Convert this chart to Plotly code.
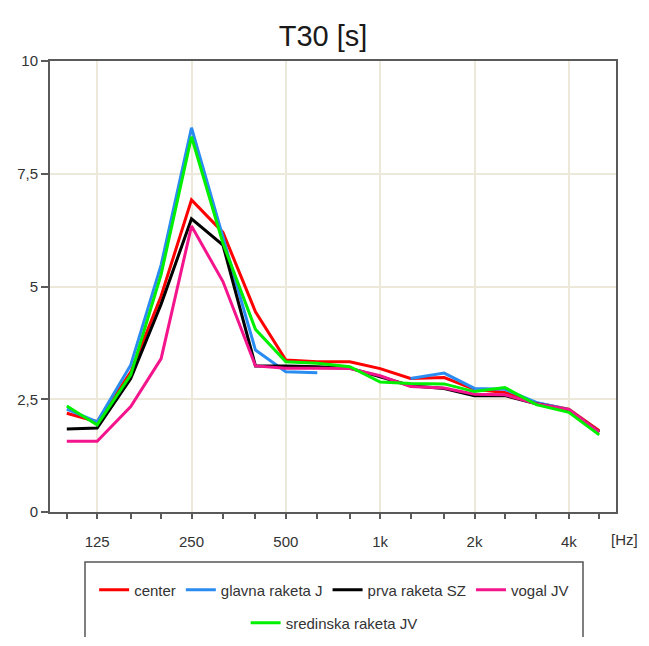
import math
import plotly.graph_objects as go

# ---- data ----
freqs = [100, 125, 160, 200, 250, 315, 400, 500, 630, 800, 1000, 1250, 1600, 2000, 2500, 3150, 4000, 5000]

center = [2.19, 2.00, 3.10, 4.79, 6.92, 6.20, 4.44, 3.37, 3.33, 3.33, 3.18, 2.96, 2.98, 2.72, 2.65, 2.42, 2.28, 1.80]
glavna_raketa_j = [2.28, 2.00, 3.26, 5.48, 8.52, 6.10, 3.59, 3.11, 3.09, None, None, 2.96, 3.08, 2.74, 2.72, 2.43, 2.27, 1.77]
prva_raketa_sz = [1.84, 1.86, 2.96, 4.61, 6.50, 5.92, 3.24, 3.24, 3.22, 3.19, 3.00, 2.80, 2.74, 2.58, 2.58, 2.40, 2.26, 1.77]
vogal_jv = [1.57, 1.57, 2.34, 3.40, 6.34, 5.11, 3.24, 3.19, 3.19, 3.18, 3.02, 2.78, 2.75, 2.61, 2.60, 2.40, 2.27, 1.77]
sredinska_raketa_jv = [2.35, 1.93, 3.04, 5.27, 8.32, 5.96, 4.05, 3.33, 3.30, 3.22, 2.88, 2.85, 2.84, 2.67, 2.76, 2.38, 2.21, 1.71]

series_names = ["center", "glavna raketa J", "prva raketa SZ", "vogal JV", "sredinska raketa JV"]
series_values = [center, glavna_raketa_j, prva_raketa_sz, vogal_jv, sredinska_raketa_jv]
series_colors = ["#FF0000", "#2A8CF0", "#000000", "#F4148C", "#00F000"]
series_legend = ["legend", "legend", "legend", "legend", "legend2"]

x_tick_vals = [125, 250, 500, 1000, 2000, 4000]
x_tick_text = ["125", "250", "500", "1k", "2k", "4k"]
y_tick_vals = [0, 2.5, 5, 7.5, 10]
y_tick_text = ["0", "2,5", "5", "7,5", "10"]

FONT = "Liberation Sans, Arial, sans-serif"

fig = go.Figure()
for name, vals, col, lg in zip(series_names, series_values, series_colors, series_legend):
    fig.add_trace(go.Scatter(
        x=freqs, y=vals, mode="lines", name=name,
        line=dict(color=col, width=3),
        connectgaps=False, legend=lg,
    ))

axis_col = "#5a5a5a"
grid_col = "#EDE9DA"

# the page body adds an 8px offset on each side; size the figure so the page does not scroll
W, H = 641, 629

fig.update_layout(
    width=W, height=H,
    margin=dict(l=42, r=33, t=53, b=H - 504, autoexpand=False),
    paper_bgcolor="white", plot_bgcolor="white",
    font=dict(family=FONT, size=15, color="#333333"),
    title=dict(text="T30 [s]", x=(323 - 8) / W, xref="container", y=1 - 28 / H, yref="container",
               xanchor="center", yanchor="middle",
               font=dict(family=FONT, size=29, color="#1a1a1a")),
    xaxis=dict(
        type="log",
        range=[math.log10(125 / math.sqrt(2)), math.log10(4000 * math.sqrt(2))],
        tickmode="array", tickvals=x_tick_vals, ticktext=x_tick_text,
        ticks="outside", ticklen=5, tickwidth=1.5, tickcolor=axis_col,
        ticklabelstandoff=10,
        showgrid=True, gridcolor=grid_col, gridwidth=1.5,
        showline=True, linecolor=axis_col, linewidth=2, mirror=True,
        minor=dict(tickvals=freqs, ticks="outside", ticklen=5, tickwidth=1.5,
                   tickcolor=axis_col, showgrid=False),
        zeroline=False,
        tickfont=dict(family=FONT, size=15, color="#333333"),
    ),
    yaxis=dict(
        range=[0, 10],
        tickmode="array", tickvals=y_tick_vals, ticktext=y_tick_text,
        ticks="outside", ticklen=7, tickwidth=1.5, tickcolor=axis_col,
        showgrid=True, gridcolor=grid_col, gridwidth=1.5,
        showline=True, linecolor=axis_col, linewidth=2, mirror=True,
        zeroline=False,
        tickfont=dict(family=FONT, size=15, color="#333333"),
    ),
    legend=dict(
        orientation="h", x=0.502, xanchor="center", y=(512 - 590) / 451, yanchor="middle",
        bgcolor="rgba(0,0,0,0)", borderwidth=0, itemwidth=30,
        font=dict(family=FONT, size=15, color="#333333"),
    ),
    legend2=dict(
        orientation="h", x=0.502, xanchor="center", y=(512 - 623) / 451, yanchor="middle",
        bgcolor="rgba(0,0,0,0)", borderwidth=0, itemwidth=30,
        font=dict(family=FONT, size=15, color="#333333"),
    ),
    showlegend=True,
)

# legend frame (open at the bottom edge as in the reference)
fig.add_shape(type="rect", xref="paper", yref="paper",
              x0=(85 - 50) / 566, x1=(583 - 50) / 566,
              y0=(512 - 680) / 451, y1=(512 - 562) / 451,
              line=dict(color="#555555", width=1.5), fillcolor="rgba(0,0,0,0)")

fig.add_annotation(text="[Hz]", xref="paper", yref="paper", x=1, y=0,
                   xanchor="right", yanchor="middle", xshift=24, yshift=-27,
                   showarrow=False, font=dict(family=FONT, size=15, color="#333333"))

fig.write_html("out.html")
